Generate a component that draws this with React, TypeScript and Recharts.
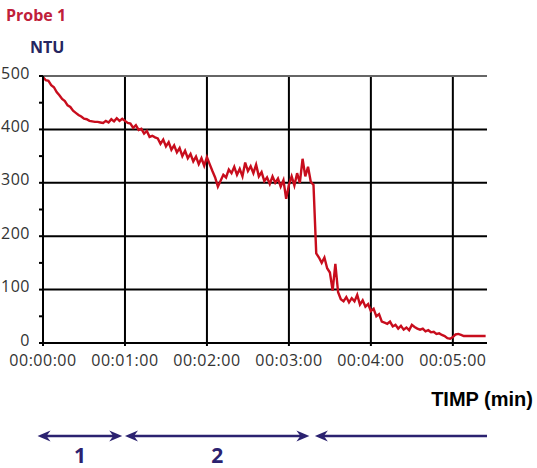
import { LineChart, Line, XAxis, YAxis, CartesianGrid, ReferenceLine } from 'recharts';

const RED = '#c80d1d';
const NAVY = '#2b2270';
const FONT = '"Open Sans", sans-serif';

// turbidity readings, one every SAMPLE_STEP seconds
const SAMPLE_STEP = 2;
const ntu = [
  498, 492, 491, 483, 479, 470, 464, 457, 453, 445, 442, 435, 431, 427, 424, 420, 419, 416, 415, 414, 414, 413, 412, 416, 413, 419, 415, 421, 416, 420,
  416, 412, 411, 403, 408, 399, 401, 392, 397, 386, 388, 385, 383, 373, 381, 368, 376, 362, 370, 357, 365, 350, 360, 346, 354, 340, 349, 335, 346, 332,
  348, 335, 322, 310, 293, 304, 315, 310, 325, 318, 330, 315, 326, 312, 338, 322, 331, 318, 334, 312, 320, 303, 310, 298, 312, 300, 308, 293, 305, 270,
  296, 312, 295, 318, 300, 345, 312, 330, 302, 296, 168, 160, 150, 160, 140, 132, 98, 148, 95, 82, 78, 86, 76, 84, 78, 90, 72, 80, 68, 73,
  60, 64, 50, 54, 40, 38, 36, 40, 31, 34, 27, 32, 25, 29, 24, 34, 30, 27, 25, 27, 22, 24, 20, 21, 17, 18, 15, 13, 9, 8,
  11, 16, 17, 15, 13, 13, 13, 13, 13, 13, 13, 13, 13,
];

const xTicks = [0, 60, 120, 180, 240, 300];
const xTickLabels = ['00:00:00', '00:01:00', '00:02:00', '00:03:00', '00:04:00', '00:05:00'];
const yTicks = [0, 50, 100, 150, 200, 250, 300, 350, 400, 450, 500];
const yGrid = [100, 200, 300, 400];

// phases shown under the time axis (seconds)
const phaseStart = [-4, 60, 199];
const phaseEnd = [58, 195, 325];
const phaseLabels = ['1', '2', ''];
const phaseEndArrow = [true, true, false];
const ARROW_LEVEL = -174;

const data = ntu.map((v, i) => ({ t: i * SAMPLE_STEP, ntu: v }));

function PhaseArrow(props: any) {
  const { x1, x2, y1, label, endArrow } = props;
  const y = y1;
  return (
    <g>
      <line x1={x1 + 6} y1={y} x2={endArrow ? x2 - 6 : x2} y2={y} stroke={NAVY} strokeWidth={2.5} />
      <path d={`M${x1},${y} L${x1 + 13},${y - 5.5} L${x1 + 9},${y} L${x1 + 13},${y + 5.5} Z`} fill={NAVY} />
      {endArrow && (
        <path d={`M${x2},${y} L${x2 - 13},${y - 5.5} L${x2 - 9},${y} L${x2 - 13},${y + 5.5} Z`} fill={NAVY} />
      )}
      {label && (
        <text x={(x1 + x2) / 2} y={y + 27} textAnchor="middle" fontFamily={FONT} fontWeight={700} fontSize={21} fill={NAVY}>
          {label}
        </text>
      )}
    </g>
  );
}

const tickStyle = { fontFamily: FONT, fontSize: 16, fill: '#333', letterSpacing: 0.5 };

export default function App() {
  return (
    <div style={{ position: 'absolute', left: 0, top: 0, width: 537, height: 468, background: '#fff' }}>
      <svg width={537} height={468} style={{ position: 'absolute', left: 0, top: 0 }}>
        <text x={6} y={21} fontFamily={FONT} fontWeight={700} fontSize={16} fill="#c0203a">Probe 1</text>
        <text x={30} y={53} fontFamily={FONT} fontWeight={700} fontSize={16} fill="#252560">NTU</text>
        <text x={533} y={406} textAnchor="end" fontFamily='"Liberation Sans", Arial, sans-serif' fontWeight={700} fontSize={20} fill="#000">
          TIMP (min)
        </text>
      </svg>
      <div style={{ position: 'absolute', left: 0, top: 0 }}>
        <LineChart width={537} height={468} data={data} margin={{ top: 76, right: 50, bottom: 95, left: 3 }}>
          <CartesianGrid stroke="#000" strokeWidth={2} horizontalValues={yGrid} verticalValues={xTicks.slice(1)} />
          <ReferenceLine y={500} stroke="#666" strokeWidth={2} />
          <XAxis
            dataKey="t"
            type="number"
            domain={[0, 325]}
            ticks={xTicks}
            tickFormatter={(v: number) => xTickLabels[xTicks.indexOf(v)] ?? ''}
            height={30}
            tickSize={3}
            tickMargin={11}
            axisLine={{ stroke: '#000', strokeWidth: 2 }}
            tickLine={{ stroke: '#000', strokeWidth: 2 }}
            tick={{ ...tickStyle, dy: -2 }}
            interval={0}
          />
          <YAxis
            type="number"
            domain={[0, 500]}
            ticks={yTicks}
            tickFormatter={(v: number) => (v % 100 === 0 ? String(v) : '')}
            width={40}
            tickSize={4}
            tickMargin={9}
            axisLine={{ stroke: '#000', strokeWidth: 2 }}
            tickLine={{ stroke: '#000', strokeWidth: 2 }}
            tick={{ ...tickStyle, dy: -3 }}
            interval={0}
          />
          {phaseStart.map((s, i) => (
            <ReferenceLine
              key={i}
              segment={[{ x: s, y: ARROW_LEVEL }, { x: phaseEnd[i], y: ARROW_LEVEL }]}
              ifOverflow="visible"
              shape={(p: any) => <PhaseArrow {...p} label={phaseLabels[i]} endArrow={phaseEndArrow[i]} />}
            />
          ))}
          <Line dataKey="ntu" stroke={RED} strokeWidth={2.4} dot={false} type="linear" isAnimationActive={false} />
        </LineChart>
      </div>
    </div>
  );
}
